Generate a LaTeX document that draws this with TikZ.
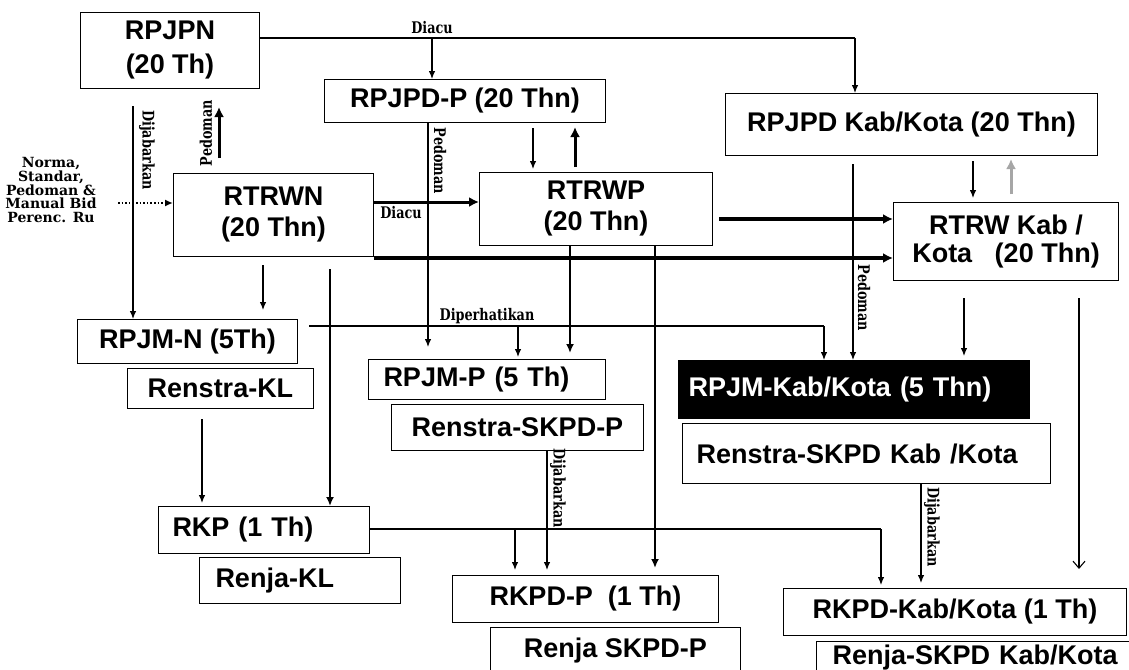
\documentclass[tikz,border=0pt]{standalone}
\usepackage{fontspec}
\setmainfont{Liberation Sans}
\newfontfamily\lblfont[FakeStretch=0.8]{DejaVu Serif Bold}
\newfontfamily\normafont{DejaVu Serif Bold}
\usetikzlibrary{arrows.meta}
\begin{document}
\begin{tikzpicture}[x=1pt,y=-1pt,
  bx/.style={draw, line width=1pt, rectangle, inner sep=0pt, anchor=north west,
     font=\fontsize{27}{31}\selectfont\bfseries, align=center},
  lbx/.style 2 args={bx, align=left, text width=#1, inner xsep=#2},
  ln/.style={line width=1.1pt},
  ar/.style={line width=1.1pt, -{Latex[length=8pt,width=6.5pt]}},
  tk/.style={line width=3pt, -{Latex[length=10pt,width=10pt]}},
  md/.style={line width=2pt, -{Latex[length=9pt,width=8pt]}},
  lbl/.style={font=\fontsize{16}{16}\lblfont, inner sep=0pt},
]
\useasboundingbox (0,0) rectangle (1129,669);
\fill[white] (0,0) rectangle (1129,669);

% ---------- boxes ----------
\node[bx, minimum width=179pt, minimum height=76pt, font=\fontsize{27}{34}\selectfont\bfseries] (RPJPN) at (80,12) {RPJPN\\(20 Th)};
\node[bx, minimum width=281pt, minimum height=43pt] (RPJPDP) at (324,79) {RPJPD-P (20 Thn)};
\node[bx, minimum width=372pt, minimum height=62pt] (RPJPDK) at (725,93) {RPJPD Kab/Kota (20 Thn)};
\node[bx, minimum width=200pt, minimum height=83pt] (RTRWN) at (173,173) {\raisebox{-3pt}{RTRWN}\\\raisebox{-3pt}{(20 Thn)}};
\node[bx, minimum width=233pt, minimum height=73pt] (RTRWP) at (479,172) {RTRWP\\(20 Thn)};
\node[bx, minimum width=225pt, minimum height=78pt, font=\fontsize{27}{28}\selectfont\bfseries] (RTRWK) at (893,202) {RTRW Kab /\\Kota\ \ \ (20 Thn)};
\node[bx, minimum width=220pt, minimum height=44pt] (RPJMN) at (77,319) {RPJM-N (5Th)};
\node[bx, minimum width=186pt, minimum height=40pt] (RenKL) at (127,368) {Renstra-KL};
\node[lbx={207pt}{15pt}, minimum height=40pt] (RPJMP) at (368,359) {RPJM-P (5 Th)};
\node[bx, minimum width=252pt, minimum height=46pt] (RenP) at (391,404) {Renstra-SKPD-P};
\node[lbx={331pt}{10pt}, minimum height=58pt, fill=black, text=white] (RPJMK) at (678,360) {RPJM-Kab/Kota (5 Thn)};
\node[lbx={340pt}{14pt}, minimum height=60pt] (RenK) at (682,423) {Renstra-SKPD Kab /Kota};
\node[lbx={183pt}{14pt}, minimum height=47pt] (RKP) at (158,506) {RKP (1 Th)};
\node[lbx={169pt}{16pt}, minimum height=46pt] (RenjaKL) at (199,557) {Renja-KL};
\node[bx, minimum width=266pt, minimum height=47pt] (RKPDP) at (452,575) {RKPD-P\ \ (1 Th)};
\node[bx, minimum width=250pt, minimum height=46pt] (RenjaP) at (490,627) {Renja SKPD-P};
\node[bx, minimum width=343pt, minimum height=47pt] (RKPDK) at (783,588) {RKPD-Kab/Kota (1 Th)};
\node[lbx={298pt}{16pt}, minimum height=32pt] (RenjaK) at (816,641) {Renja-SKPD Kab/Kota};

% ---------- side text ----------
\node[inner sep=0pt, align=center, font=\fontsize{14}{13.8}\normafont] (norma) at (51,190) {Norma,\\Standar,\\Pedoman \&\\Manual Bid\\Perenc. Ru};
\coordinate (ns) at (118,203);
\draw[line width=1.6pt, dotted, -{Latex[length=8pt,width=7pt]}] (ns) -- (RTRWN.west |- ns);

% ---------- RPJPN Diacu ----------
\coordinate (tc) at (855,38);
\coordinate (tb) at (432,38);
\draw[ln] (RPJPN.east |- tc) -- (tc);
\draw[ar] (tc) -- (RPJPDK.north -| tc);
\draw[ar] (tb) -- (RPJPDP.north -| tb);
\node[lbl] (lDiacuA) at (432,28) {Diacu};

% ---------- Dijabarkan (national) ----------
\coordinate (djs) at (133,106);
\draw[ar] (djs) -- (RPJMN.north -| djs);
\node[lbl, rotate=-90] (lDijA) at (147,150) {Dijabarkan};

% ---------- Pedoman up ----------
\coordinate (pu1) at (219,158);
\coordinate (pu2) at (219,107);
\draw[tk] (pu1) -- (pu2);
\node[lbl, rotate=90] (lPedA) at (206,133) {Pedoman};

% ---------- RTRWN -> RTRWP ----------
\coordinate (dcy) at (0,202);
\draw[tk] (RTRWN.east |- dcy) -- (RTRWP.west |- dcy);
\node[lbl] (lDiacuB) at (401,213) {Diacu};

% ---------- RPJPD-P links ----------
\coordinate (px) at (428,0);
\draw[ar, shorten >=12pt] (RPJPDP.south -| px) -- (RPJMP.north -| px);
\node[lbl, rotate=-90] (lPedB) at (440,161) {Pedoman};
\draw[ar, shorten <=5pt, shorten >=3pt] (RPJPDP.south -| 533,0) -- (RTRWP.north -| 533,0);
\draw[tk, shorten <=5pt, shorten >=4pt] (RTRWP.north -| 575,0) -- (RPJPDP.south -| 575,0);

% ---------- to RTRW Kab/Kota ----------
\draw[tk, line width=3.5pt, shorten <=6pt] (RTRWP.east |- 0,219) -- (RTRWK.west |- 0,219);
\draw[tk, line width=3.5pt] (RTRWN.east |- 0,258) -- (RTRWK.west |- 0,258);

% ---------- RPJPD Kab/Kota links ----------
\draw[ar, shorten <=5pt, shorten >=4pt] (RPJPDK.south -| 973,0) -- (RTRWK.north -| 973,0);
\draw[tk, gray!70, shorten <=8pt, shorten >=3pt] (RTRWK.north -| 1011,0) -- (RPJPDK.south -| 1011,0);
\draw[ar, shorten <=8pt] (RPJPDK.south -| 853,0) -- (RPJMK.north -| 853,0);
\node[lbl, rotate=-90] (lPedC) at (864,298) {Pedoman};

% ---------- RTRW Kab/Kota down ----------
\draw[ar, shorten <=17pt, shorten >=4pt] (RTRWK.south -| 964,0) -- (RPJMK.north -| 964,0);
\draw[ln, -{Straight Barb[length=7pt,width=12pt]}, shorten <=17pt, shorten >=19pt] (RTRWK.south -| 1079,0) -- (RKPDK.north -| 1079,0);

% ---------- RTRWN down ----------
\draw[ar, shorten <=8pt, shorten >=9pt] (RTRWN.south -| 263,0) -- (RPJMN.north -| 263,0);
\draw[md, shorten <=12pt] (RTRWN.south -| 330,0) -- (RKP.north -| 330,0);

% ---------- Diperhatikan ----------
\coordinate (dp1) at (824,326);
\coordinate (dp2) at (518,326);
\draw[ln, shorten <=11pt] (RPJMN.east |- dp1) -- (dp1);
\draw[ar] (dp1) -- (RPJMK.north -| dp1);
\draw[ar, shorten >=2pt] (dp2) -- (RPJMP.north -| dp2);
\node[lbl] (lDip) at (487,316) {Diperhatikan};

% ---------- RTRWP down ----------
\draw[md, shorten >=6pt] (RTRWP.south -| 570,0) -- (RPJMP.north -| 570,0);
\draw[md, shorten >=7pt] (RTRWP.south -| 655,0) -- (RKPDP.north -| 655,0);

% ---------- Renstra-KL -> RKP ----------
\draw[ar, shorten <=10pt, shorten >=3pt] (RenKL.south -| 202,0) -- (RKP.north -| 202,0);

% ---------- RKP line ----------
\coordinate (rk1) at (881,529);
\coordinate (rk2) at (515,529);
\draw[ln] (RKP.east |- rk1) -- (rk1);
\draw[ar, shorten >=3pt] (rk1) -- (RKPDK.north -| rk1);
\draw[ar, shorten >=5pt] (rk2) -- (RKPDP.north -| rk2);

% ---------- Dijabarkan (provincial, kab/kota) ----------
\draw[ar, shorten >=5pt] (RenP.south -| 547,0) -- (RKPDP.north -| 547,0);
\node[lbl, rotate=-90] (lDijB) at (558,488) {Dijabarkan};
\draw[ar, shorten >=5pt] (RenK.south -| 921,0) -- (RKPDK.north -| 921,0);
\node[lbl, rotate=-90] (lDijC) at (932,527) {Dijabarkan};
\end{tikzpicture}
\end{document}
